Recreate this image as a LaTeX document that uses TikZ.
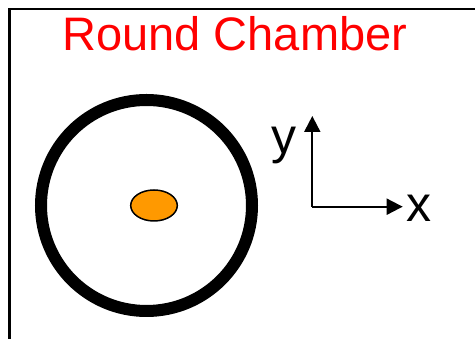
\documentclass[tikz,border=0pt]{standalone}
\usepackage{fontspec}
\setmainfont{Liberation Sans}
\usetikzlibrary{arrows.meta}
\definecolor{ballorange}{HTML}{FF9900}
\tikzset{
  frameline/.style={line width=2.5pt, line cap=rect},
  axisline/.style={line width=2pt, -{Triangle[length=16pt,width=16pt]}},
  label/.style={inner sep=0pt, anchor=base, font=\fontsize{50}{50}\selectfont},
  title/.style={inner sep=0pt, anchor=base, text=red, font=\fontsize{47}{47}\selectfont},
  wall/.style={line width=12pt},
  beam/.style={draw=black, line width=1.5pt, fill=ballorange}
}
\begin{document}
\begin{tikzpicture}[x=1pt,y=1pt]
\useasboundingbox (0,0) rectangle (475,339);
% frame
\coordinate (fbl) at (9.7,-5);
\coordinate (ftl) at (9.7,330);
\coordinate (ftr) at (480,330);
\draw[frameline] (fbl) -- (ftl) -- (ftr);
% title
\node[title] (ttl) at (234.8,288.3) {Round Chamber};
% chamber
\coordinate (cc) at (146.5,133.5);
\draw[wall] (cc) circle[radius=105.5];
\coordinate (bc) at (154,133.5);
\draw[beam] (bc) ellipse[x radius=23.3, y radius=15.5];
% axes
\coordinate (orig) at (312.3,132.3);
\coordinate (xend) at (402.7,132.3);
\coordinate (yend) at (312.3,223);
\draw[axisline] (orig) -- (xend);
\draw[axisline] (orig.center) -- (yend);
\node[label] (xl) at (419,117) {x};
\node[label] (yl) at (284,185) {y};
\end{tikzpicture}
\end{document}
